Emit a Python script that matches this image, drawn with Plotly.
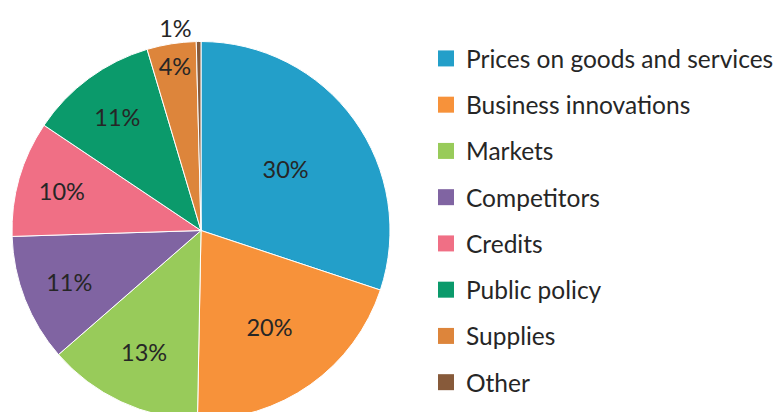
import plotly.graph_objects as go

categories = ["Prices on goods and services", "Business innovations", "Markets",
              "Competitors", "Credits", "Public policy", "Supplies", "Other"]
shares = [30.1, 20.2, 13.3, 10.9, 9.9, 11.0, 4.2, 0.4]
pct_labels = ["30%", "20%", "13%", "11%", "10%", "11%", "4%", "1%"]
colors = ["#239fc9", "#f7923a", "#98cb5a", "#8064a2", "#f06f85", "#0b9a6b", "#dd853b", "#875a3a"]

FONT = "Lato"
TXT = "#262626"
W, H = 790, 430  # paper slightly larger than window; bottom of pie is clipped as in reference

fig = go.Figure()
fig.add_trace(go.Pie(
    labels=categories, values=shares, text=pct_labels,
    textinfo="text", sort=False, direction="clockwise", rotation=0,
    marker=dict(colors=colors, line=dict(color="white", width=1)),
    textposition=["inside"] * 7 + ["outside"],
    insidetextorientation="horizontal",
    textfont=dict(family=FONT, size=23.5, color=TXT),
    domain=dict(x=[12 / W, 390 / W], y=[(H - 420) / H, (H - 41) / H]),
    showlegend=False, hoverinfo="label+text",
))

for i, (cat, col) in enumerate(zip(categories, colors)):
    fig.add_trace(go.Scatter(
        x=[None], y=[None], mode="markers", name=cat, legendgroup=f"g{i}",
        marker=dict(symbol="square", size=18, color=col),
        showlegend=True,
    ))

fig.update_layout(
    width=W, height=H,
    margin=dict(l=0, r=0, t=0, b=0),
    paper_bgcolor="white", plot_bgcolor="white",
    xaxis=dict(visible=False), yaxis=dict(visible=False),
    showlegend=True,
    legend=dict(x=426 / W, xanchor="left", y=1 - 36 / H, yanchor="top",
                font=dict(family=FONT, size=24.5, color=TXT),
                tracegroupgap=11.4, bgcolor="rgba(0,0,0,0)"),
)

fig.write_html(
    "out.html",
    config={"displayModeBar": False},
    post_script="document.body.style.margin='0';"
                "document.body.style.overflow='hidden';"
                "document.documentElement.style.overflow='hidden';",
)
